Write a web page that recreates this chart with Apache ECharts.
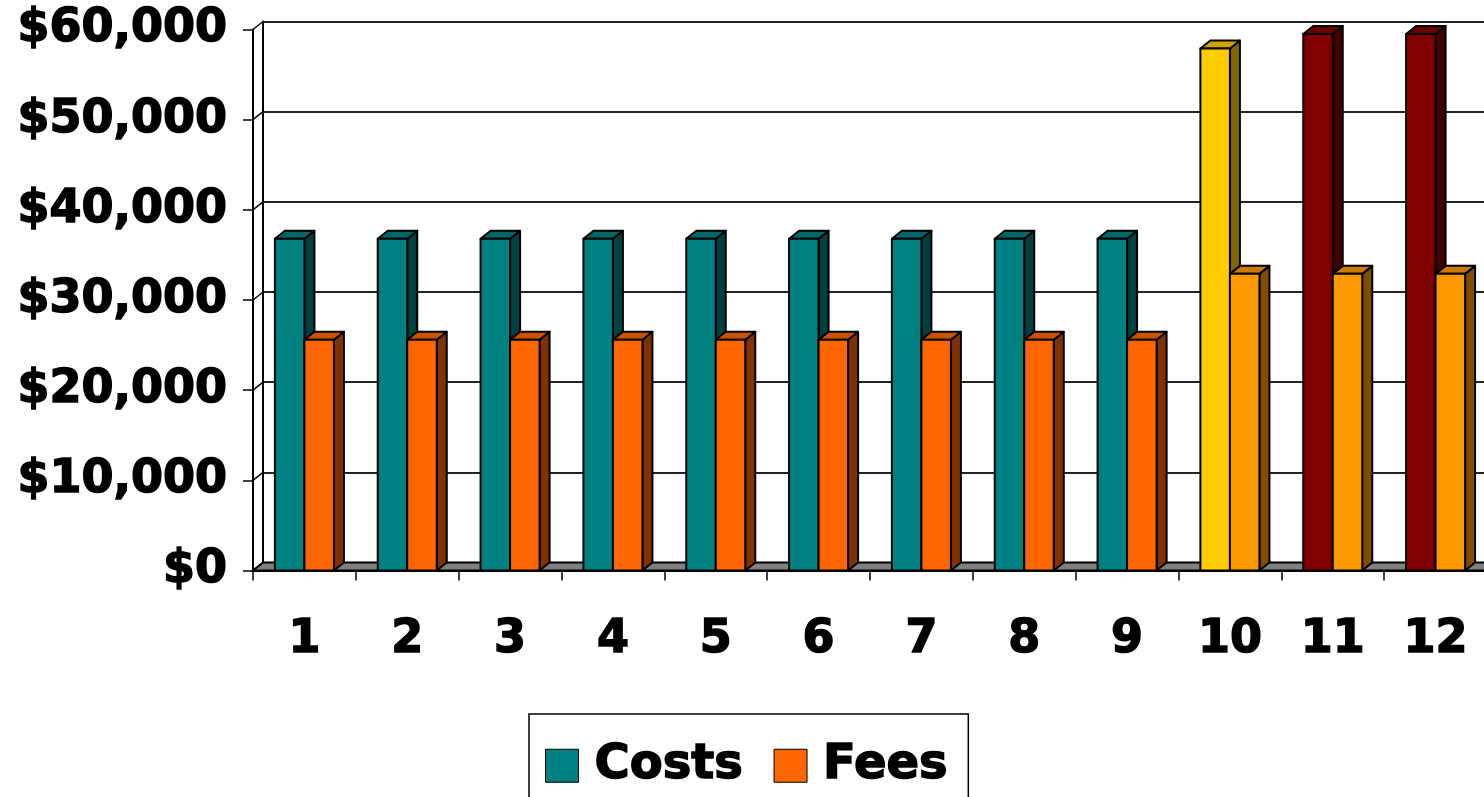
<!DOCTYPE html>
<html>
<head>
<meta charset="utf-8">
<script src="https://cdn.jsdelivr.net/npm/echarts@6/dist/echarts.min.js"></script>
<style>
  html, body { margin: 0; padding: 0; background: #fff; }
  #chart { width: 1484px; height: 797px; }
</style>
</head>
<body>
<div id="chart"></div>
<script>
// data
const categories = ['1', '2', '3', '4', '5', '6', '7', '8', '9', '10', '11', '12'];
const costs = [36800, 36800, 36800, 36800, 36800, 36800, 36800, 36800, 36800, 57900, 59500, 59500];
const fees = [25600, 25600, 25600, 25600, 25600, 25600, 25600, 25600, 25600, 32900, 32900, 32900];
const yTicks = [0, 10000, 20000, 30000, 40000, 50000, 60000];

// 3d look: depth offset of the back wall
const DX = 10;
const DY = -8;
const FONT = "'DejaVu Sans', 'Liberation Sans', sans-serif";

// colours (points 10-12 are coloured differently in the original)
const costColor = '#008080';
const feeColor = '#FF6600';
const costOverride = { 9: '#FFCC00', 10: '#800000', 11: '#800000' };
const feeOverride = { 9: '#FF9900', 10: '#FF9900', 11: '#FF9900' };

function shade(hex, k) {
  const n = parseInt(hex.slice(1), 16);
  const r = Math.round(((n >> 16) & 255) * k);
  const g = Math.round(((n >> 8) & 255) * k);
  const b = Math.round((n & 255) * k);
  return 'rgb(' + r + ',' + g + ',' + b + ')';
}

function barRenderer(side, baseColor, override) {
  return function (params, api) {
    const i = api.value(0);
    const top = api.coord([i, api.value(1)]);
    const base = api.coord([i, 0]);
    const catW = api.size([1, 0])[0];
    const bw = catW * 0.287;
    const x0 = top[0] + side * bw;
    const x1 = x0 + bw;
    const yT = top[1];
    const yB = base[1];
    const fill = override[i] || baseColor;
    const edge = { stroke: '#000', lineWidth: 2, lineJoin: 'round' };
    return {
      type: 'group',
      children: [
        {
          type: 'polygon',
          shape: { points: [[x1, yB], [x1 + DX, yB + DY], [x1 + DX, yT + DY], [x1, yT]] },
          style: Object.assign({ fill: shade(fill, 0.5) }, edge)
        },
        {
          type: 'polygon',
          shape: { points: [[x0, yT], [x0 + DX, yT + DY], [x1 + DX, yT + DY], [x1, yT]] },
          style: Object.assign({ fill: shade(fill, 0.8) }, edge)
        },
        {
          type: 'rect',
          shape: { x: x0, y: yT, width: bw, height: yB - yT },
          style: Object.assign({ fill: fill }, edge)
        }
      ]
    };
  };
}

// floor + the little diagonals on the left wall
function frameRenderer(params, api) {
  const cs = params.coordSys;
  const v = api.value(1);
  const y = api.coord([0, v])[1];
  const left = cs.x;
  const right = cs.x + cs.width;
  const children = [];
  if (v === 0) {
    children.push({
      type: 'polygon',
      shape: { points: [[left, y], [left + DX, y + DY], [right + DX, y + DY], [right, y]] },
      style: { fill: '#808080', stroke: '#000', lineWidth: 2 }
    });
  }
  children.push({
    type: 'line',
    shape: { x1: left, y1: y, x2: left + DX, y2: y + DY },
    style: { stroke: '#000', lineWidth: 1.5 }
  });
  return { type: 'group', children: children };
}

const chart = echarts.init(document.getElementById('chart'));

const option = {
  animation: false,
  backgroundColor: '#fff',
  grid: [
    { left: 253, right: -3, top: 29.5, bottom: 226.5, outerBoundsMode: 'none' },
    // back wall
    { left: 253 + DX, right: -3 - DX, top: 29.5 + DY, bottom: 226.5 - DY, outerBoundsMode: 'none' }
  ],
  xAxis: [
    {
      type: 'category',
      gridIndex: 0,
      data: categories,
      axisLine: { show: true, lineStyle: { color: '#000', width: 2 } },
      axisTick: { show: true, length: 10, lineStyle: { color: '#000', width: 1.5 } },
      axisLabel: {
        color: '#000',
        fontFamily: FONT,
        fontWeight: 'bold',
        fontSize: 46,
        margin: 47,
        textBorderColor: '#000',
        textBorderWidth: 1.5
      },
      splitLine: { show: false }
    },
    {
      type: 'category',
      gridIndex: 1,
      data: categories,
      show: false
    }
  ],
  yAxis: [
    {
      type: 'value',
      gridIndex: 0,
      min: 0,
      max: 60000,
      interval: 10000,
      axisLine: { show: true, lineStyle: { color: '#000', width: 2 } },
      axisTick: { show: true, length: 10, lineStyle: { color: '#000', width: 1.5 } },
      axisLabel: {
        color: '#000',
        fontFamily: FONT,
        fontWeight: 'bold',
        fontSize: 46,
        margin: 26,
        textBorderColor: '#000',
        textBorderWidth: 1.5,
        formatter: function (v) {
          return '$' + v.toLocaleString('en-US');
        }
      },
      splitLine: { show: false }
    },
    {
      type: 'value',
      gridIndex: 1,
      min: 0,
      max: 60000,
      interval: 10000,
      axisLine: { show: true, lineStyle: { color: '#000', width: 2 } },
      axisTick: { show: false },
      axisLabel: { show: false },
      splitLine: { show: true, lineStyle: { color: '#222', width: 2 } }
    }
  ],
  legend: {
    left: 529,
    top: 714,
    orient: 'horizontal',
    icon: 'rect',
    itemWidth: 33,
    itemHeight: 33,
    itemGap: 30,
    padding: [27, 20, 30, 16],
    borderColor: '#000',
    borderWidth: 1.5,
    textStyle: {
      color: '#000',
      fontFamily: FONT,
      fontWeight: 'bold',
      fontSize: 48,
      padding: [0, 0, 0, 11],
      textBorderColor: '#000',
      textBorderWidth: 1.5
    },
    data: [
      { name: 'Costs', itemStyle: { color: costColor, borderColor: '#000', borderWidth: 1 } },
      { name: 'Fees', itemStyle: { color: feeColor, borderColor: '#000', borderWidth: 1 } }
    ]
  },
  series: [
    {
      name: 'frame',
      type: 'custom',
      xAxisIndex: 0,
      yAxisIndex: 0,
      clip: false,
      silent: true,
      z: 1,
      renderItem: frameRenderer,
      encode: { x: 0, y: 1 },
      data: yTicks.map(function (v) { return [0, v]; })
    },
    {
      name: 'Costs',
      type: 'custom',
      xAxisIndex: 0,
      yAxisIndex: 0,
      clip: false,
      z: 3,
      itemStyle: { color: costColor },
      renderItem: barRenderer(-1, costColor, costOverride),
      encode: { x: 0, y: 1 },
      data: costs.map(function (v, i) { return [i, v]; })
    },
    {
      name: 'Fees',
      type: 'custom',
      xAxisIndex: 0,
      yAxisIndex: 0,
      clip: false,
      z: 4,
      itemStyle: { color: feeColor },
      renderItem: barRenderer(0, feeColor, feeOverride),
      encode: { x: 0, y: 1 },
      data: fees.map(function (v, i) { return [i, v]; })
    }
  ]
};

chart.setOption(option);
</script>
</body>
</html>
